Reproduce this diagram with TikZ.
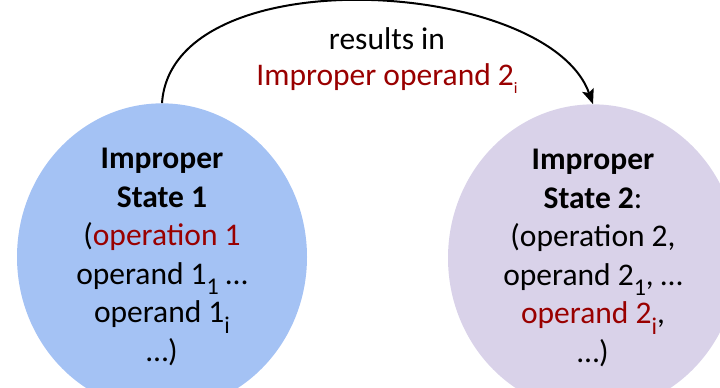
\documentclass[tikz,border=0pt]{standalone}
\usepackage{fontspec}
\setmainfont{Carlito}
\usepackage{xcolor}
\usetikzlibrary{shapes.geometric, arrows.meta}
\definecolor{stblue}{HTML}{A4C2F4}
\definecolor{stpurple}{HTML}{D9D2E9}
\definecolor{darkred}{HTML}{990000}
\newcommand{\subtxt}[1]{\raisebox{-0.33em}{\fontsize{24}{24}\selectfont #1}}
\newcommand{\smallsub}[1]{\raisebox{-0.25em}{\fontsize{16}{16}\selectfont #1}}

\begin{document}
\begin{tikzpicture}[x=1pt, y=1pt,
    state/.style={ellipse, minimum width=290pt, minimum height=278pt, inner sep=0pt,
      align=center, font=\fontsize{31.5}{38.5}\selectfont}]
    \clip (0,0) rectangle (720,388);

    \node[state, fill=stblue] (st1) at (162,131)
        {\textbf{Improper}\\\textbf{State 1}\\(\textcolor{darkred}{operation 1}\\operand 1\subtxt{1} …\\operand 1\subtxt{i}\\…)};
    \node[state, fill=stpurple] (st2) at (593,130)
        {\textbf{Improper}\\\textbf{State 2}:\\(operation 2,\\operand 2\subtxt{1}, …\\\textcolor{darkred}{operand 2\subtxt{i}},\\…)};

    \node[align=center, font=\fontsize{31.5}{36}\selectfont] (res) at (387,327)
        {results in\\\textcolor{darkred}{Improper operand 2\smallsub{i}}};

    \draw[line width=2pt, -{Stealth[length=15pt, width=12pt, inset=3pt]}]
        (st1.north) .. controls (172,432) and (548,410) .. (st2.north);
\end{tikzpicture}
\end{document}
